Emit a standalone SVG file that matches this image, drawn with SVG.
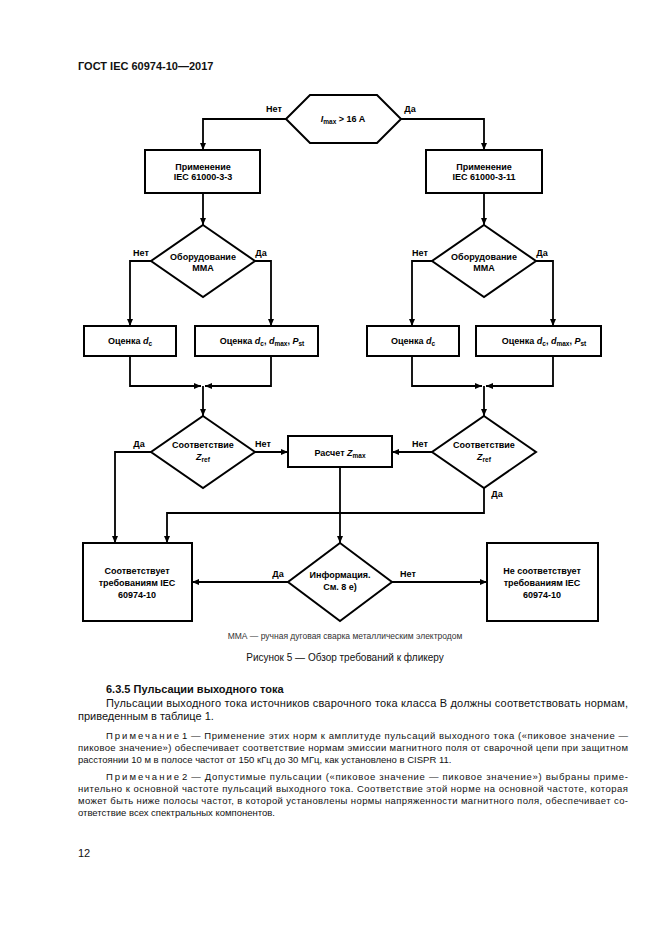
<svg xmlns="http://www.w3.org/2000/svg" width="661" height="935" viewBox="0 0 661 935">
<defs>
<marker id="ah" markerUnits="userSpaceOnUse" markerWidth="8" markerHeight="6" refX="7" refY="3" orient="auto"><path d="M0,0 L7,3 L0,6 z" fill="#000"/></marker>
</defs>
<style>
.n{fill:#fff;stroke:#000;stroke-width:2}
.c path{fill:none;stroke:#000;stroke-width:1.8}
.a{marker-end:url(#ah)}
.t{font-family:"Liberation Sans",Arial,sans-serif;font-size:9px;font-weight:bold;text-anchor:middle;fill:#000}
.s{font-size:6.5px}
.i{font-style:italic}
.b{font-family:"Liberation Sans",Arial,sans-serif;font-size:11px;fill:#111}
.nt{font-family:"Liberation Sans",Arial,sans-serif;font-size:9.5px;fill:#111}
</style>
<rect width="661" height="935" fill="#fff"/>
<text x="78" y="70" font-family="Liberation Sans, Arial, sans-serif" font-size="11" font-weight="bold" fill="#111">ГОСТ IEC 60974-10—2017</text>

<g id="connectors" class="c">
<path class="a" d="M286,119 H203 V150"/>
<path class="a" d="M401,119 H484 V150"/>
<path class="a" d="M203,193 V225"/>
<path class="a" d="M484,193 V225"/>
<path class="a" d="M151,261 H130 V326"/>
<path class="a" d="M255,261 H271 V326"/>
<path class="a" d="M432,261 H412 V326"/>
<path class="a" d="M536,261 H553 V326"/>
<path class="a" d="M130,356 V386 H201"/>
<path class="a" d="M271,356 V386 H205"/>
<path class="a" d="M203,386 V416"/>
<path class="a" d="M412,356 V386 H482"/>
<path class="a" d="M553,356 V386 H486"/>
<path class="a" d="M484,386 V416"/>
<path class="a" d="M151,452 H115 V543"/>
<path class="a" d="M255,452 H288"/>
<path class="a" d="M432,452 H392"/>
<path class="a" d="M484,488 V513 H167 V543"/>
<path class="a" d="M340,467 V543"/>
<path class="a" d="M288,582 H192"/>
<path class="a" d="M392,582 H487"/>
</g>

<g class="t">
<text x="274" y="112">Нет</text>
<text x="410" y="112">Да</text>
<text x="141" y="256">Нет</text>
<text x="261" y="256">Да</text>
<text x="420" y="256">Нет</text>
<text x="542" y="256">Да</text>
<text x="139" y="447">Да</text>
<text x="263" y="447">Нет</text>
<text x="420" y="447">Нет</text>
<text x="497" y="497">Да</text>
<text x="278" y="577">Да</text>
<text x="408" y="577">Нет</text>
</g>

<g id="n_imax">
<polygon class="n" points="286,119 310,95 377,95 401,119 377,143 310,143"/>
<text class="t" x="343" y="122"><tspan class="i">I</tspan><tspan class="s" dy="2">max</tspan><tspan dy="-2"> &gt; 16 A</tspan></text>
</g>
<g id="n_app33">
<rect class="n" x="145" y="150" width="115" height="43"/>
<text class="t" x="203" y="169.5">Применение</text>
<text class="t" x="203" y="179.5">IEC 61000-3-3</text>
</g>
<g id="n_app311">
<rect class="n" x="426" y="150" width="116" height="43"/>
<text class="t" x="484" y="169.5">Применение</text>
<text class="t" x="484" y="179.5">IEC 61000-3-11</text>
</g>
<g id="n_mma_l">
<polygon class="n" points="203,225 255,261 203,297 151,261"/>
<text class="t" x="203" y="260">Оборудование</text>
<text class="t" x="203" y="271">MMA</text>
</g>
<g id="n_mma_r">
<polygon class="n" points="484,225 536,261 484,297 432,261"/>
<text class="t" x="484" y="260">Оборудование</text>
<text class="t" x="484" y="271">MMA</text>
</g>
<g id="n_e1">
<rect class="n" x="84" y="326" width="92" height="30"/>
<text class="t" x="130" y="344">Оценка <tspan class="i">d</tspan><tspan class="s" dy="2">c</tspan></text>
</g>
<g id="n_e2">
<rect class="n" x="195" y="326" width="123" height="30"/>
<text class="t" x="262" y="344">Оценка <tspan class="i">d</tspan><tspan class="s" dy="2">c</tspan><tspan dy="-2">, </tspan><tspan class="i">d</tspan><tspan class="s" dy="2">max</tspan><tspan dy="-2">, </tspan><tspan class="i">P</tspan><tspan class="s" dy="2">st</tspan></text>
</g>
<g id="n_e3">
<rect class="n" x="367" y="326" width="92" height="30"/>
<text class="t" x="413" y="344">Оценка <tspan class="i">d</tspan><tspan class="s" dy="2">c</tspan></text>
</g>
<g id="n_e4">
<rect class="n" x="476" y="326" width="125" height="30"/>
<text class="t" x="544" y="344">Оценка <tspan class="i">d</tspan><tspan class="s" dy="2">c</tspan><tspan dy="-2">, </tspan><tspan class="i">d</tspan><tspan class="s" dy="2">max</tspan><tspan dy="-2">, </tspan><tspan class="i">P</tspan><tspan class="s" dy="2">st</tspan></text>
</g>
<g id="n_zref_l">
<polygon class="n" points="203,416 255,452 203,488 151,452"/>
<text class="t" x="203" y="448">Соответствие</text>
<text class="t" x="203" y="460"><tspan class="i">Z</tspan><tspan class="s" dy="2">ref</tspan></text>
</g>
<g id="n_zref_r">
<polygon class="n" points="484,416 536,452 484,488 432,452"/>
<text class="t" x="484" y="448">Соответствие</text>
<text class="t" x="484" y="460"><tspan class="i">Z</tspan><tspan class="s" dy="2">ref</tspan></text>
</g>
<g id="n_calc">
<rect class="n" x="288" y="436" width="104" height="31"/>
<text class="t" x="340" y="456">Расчет <tspan class="i">Z</tspan><tspan class="s" dy="2">max</tspan></text>
</g>
<g id="n_ok">
<rect class="n" x="83" y="543" width="109" height="78"/>
<text class="t" x="137" y="574">Соответствует</text>
<text class="t" x="137" y="586">требованиям IEC</text>
<text class="t" x="137" y="598">60974-10</text>
</g>
<g id="n_info">
<polygon class="n" points="340,543 392,582 340,621 288,582"/>
<text class="t" x="340" y="578">Информация.</text>
<text class="t" x="340" y="590">См. 8 е)</text>
</g>
<g id="n_nok">
<rect class="n" x="487" y="543" width="111" height="78"/>
<text class="t" x="542" y="574">Не соответствует</text>
<text class="t" x="542" y="586">требованиям IEC</text>
<text class="t" x="542" y="598">60974-10</text>
</g>

<text x="345" y="639" text-anchor="middle" font-family="Liberation Sans, Arial, sans-serif" font-size="8.5" fill="#333">ММА — ручная дуговая сварка металлическим электродом</text>
<text x="345" y="661" text-anchor="middle" font-family="Liberation Sans, Arial, sans-serif" font-size="10" fill="#111">Рисунок 5 — Обзор требований к фликеру</text>
<text x="106" y="693" font-family="Liberation Sans, Arial, sans-serif" font-size="11" font-weight="bold" fill="#111">6.3.5 Пульсации выходного тока</text>
<text class="b" x="106" y="707" textLength="522" lengthAdjust="spacing">Пульсации выходного тока источников сварочного тока класса В должны соответствовать нормам,</text>
<text class="b" x="78" y="720">приведенным в таблице 1.</text>
<text class="nt" x="106" y="739" letter-spacing="2">Примечание</text>
<text class="nt" x="182" y="739" textLength="446" lengthAdjust="spacing">1 — Применение этих норм к амплитуде пульсаций выходного тока («пиковое значение —</text>
<text class="nt" x="78" y="751" textLength="550" lengthAdjust="spacing">пиковое значение») обеспечивает соответствие нормам эмиссии магнитного поля от сварочной цепи при защитном</text>
<text class="nt" x="78" y="763">расстоянии 10 м в полосе частот от 150 кГц до 30 МГц, как установлено в CISPR 11.</text>
<text class="nt" x="106" y="780" letter-spacing="2">Примечание</text>
<text class="nt" x="182" y="780" textLength="446" lengthAdjust="spacing">2 — Допустимые пульсации («пиковое значение — пиковое значение») выбраны приме-</text>
<text class="nt" x="78" y="792" textLength="550" lengthAdjust="spacing">нительно к основной частоте пульсаций выходного тока. Соответствие этой норме на основной частоте, которая</text>
<text class="nt" x="78" y="804" textLength="550" lengthAdjust="spacing">может быть ниже полосы частот, в которой установлены нормы напряженности магнитного поля, обеспечивает со-</text>
<text class="nt" x="78" y="816">ответствие всех спектральных компонентов.</text>
<text class="b" x="78" y="857">12</text>
</svg>
